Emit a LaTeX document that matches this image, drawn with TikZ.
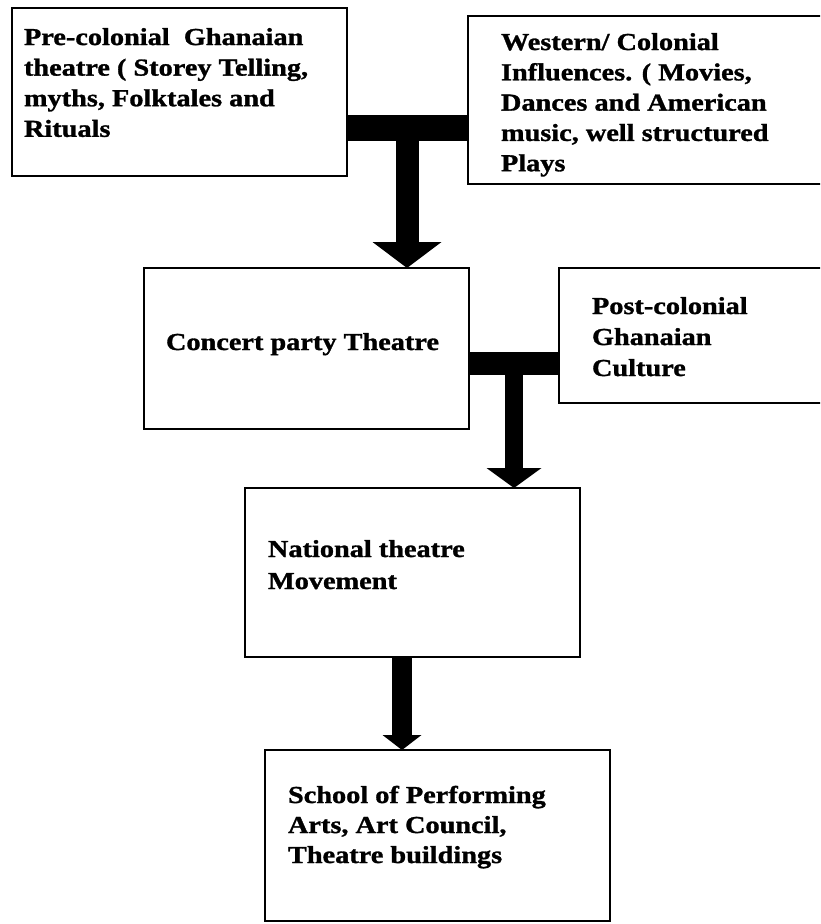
\documentclass[tikz,border=0pt]{standalone}
\usepackage{fontspec}
\setmainfont{Liberation Serif}[FakeStretch=1.16, BoldFeatures={FakeBold=1.2}]
\usetikzlibrary{calc}
\begin{document}
\begin{tikzpicture}[x=1pt,y=1pt,
  box/.style={draw=black, line width=2.6pt, rectangle, inner sep=0pt, outer sep=0pt, anchor=north west, fill=white},
  txt/.style={anchor=north west, inner sep=0pt, outer sep=0pt, align=left},
  bs/.style={font=\fontsize{24.4}{#1}\selectfont\bfseries}
]
\useasboundingbox (0,0) rectangle (820,-924);
\fill[white] (0,0) rectangle (820,-924);
\clip (0,0) rectangle (820,-924);

% boxes
\node[box, minimum width=335pt, minimum height=168pt] (A) at (12,-8) {};
\node[box, minimum width=362pt, minimum height=168pt] (B) at (468,-16) {};
\node[box, minimum width=325pt, minimum height=161pt] (C) at (144,-268) {};
\node[box, minimum width=272pt, minimum height=135pt] (D) at (559,-268) {};
\node[box, minimum width=335pt, minimum height=169pt] (E) at (245,-488) {};
\node[box, minimum width=345pt, minimum height=171pt] (F) at (265,-750) {};

% texts
\node[txt, bs=30.6] (tA) at (24,-23.6) {\strut Pre-colonial~ Ghanaian\\theatre ( Storey Telling,\\myths, Folktales and\\Rituals};
\node[txt, bs=30.3] (tB) at (501,-28.8) {\strut Western/ Colonial\\Influences. ( Movies,\\Dances and American\\music, well structured\\Plays};
\node[txt, bs=30] (tC) at (166,-329) {\strut Concert party Theatre};
\node[txt, bs=31] (tD) at (592,-292.3) {\strut Post-colonial\\Ghanaian\\Culture};
\node[txt, bs=32] (tE) at (268,-534.6) {\strut National theatre\\Movement};
\node[txt, bs=30] (tF) at (288,-782) {\strut School of Performing\\Arts, Art Council,\\Theatre buildings};

% connector 1: A + B -> C
\coordinate (j1) at (407,-128);
\draw[line width=26pt] (A.east |- j1) -- (B.west |- j1);
\fill ($(j1)+(-11.5,0)$) rectangle ($(j1 |- C.north)+(11.5,26)$);
\fill ($(j1 |- C.north)+(-34.5,26)$) -- ($(j1 |- C.north)+(34.5,26)$) -- (j1 |- C.north) -- cycle;

% connector 2: C + D -> E
\coordinate (j2) at (514,-363.5);
\draw[line width=23pt] (C.east |- j2) -- (D.west |- j2);
\fill ($(j2)+(-9,0)$) rectangle ($(j2 |- E.north)+(9,20)$);
\fill ($(j2 |- E.north)+(-27.5,20)$) -- ($(j2 |- E.north)+(27.5,20)$) -- (j2 |- E.north) -- cycle;

% connector 3: E -> F
\coordinate (c3) at (402,0);
\fill ($(c3 |- E.south)+(-10,0)$) rectangle ($(c3 |- F.north)+(10,15)$);
\fill ($(c3 |- F.north)+(-19.5,15)$) -- ($(c3 |- F.north)+(19.5,15)$) -- (c3 |- F.north) -- cycle;
\end{tikzpicture}
\end{document}
